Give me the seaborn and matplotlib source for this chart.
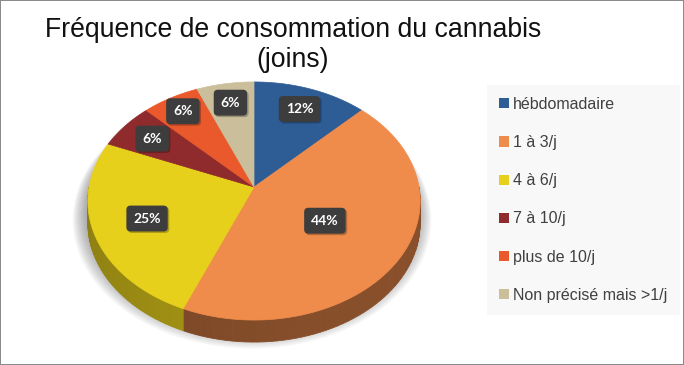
import numpy as np
import matplotlib
matplotlib.use("Agg")
import matplotlib.pyplot as plt
import matplotlib.colors as mcolors
from matplotlib.patches import Patch
import seaborn as sns

# ---------------- data ----------------
categories = ["hébdomadaire", "1 à 3/j", "4 à 6/j", "7 à 10/j",
              "plus de 10/j", "Non précisé mais >1/j"]
shares = [12.5, 43.75, 25.0, 6.25, 6.25, 6.25]
pct_labels = ["12%", "44%", "25%", "6%", "6%", "6%"]
title_lines = ["Fréquence de consommation du cannabis", "(joins)"]

# ---------------- style ----------------
colors = ["#2e5d96", "#ef8b4b", "#e7d01c", "#8f2b2c", "#e9592b", "#cbbf9b"]
side_factor = [0.55, 0.52, 0.68, 0.55, 0.55, 0.6]
label_radius = [0.78, 0.50, 0.68, 0.78, 0.84, 0.80]

sns.set_theme(style="white")
plt.rcParams['font.family'] = ['Liberation Sans', 'DejaVu Sans']

W, H = 684, 365
fig = plt.figure(figsize=(W / 100, H / 100), dpi=100)
fig.patch.set_facecolor("white")
fig.patch.set_edgecolor("#8a8a8a")
fig.patch.set_linewidth(1.2)
ax = fig.add_axes([0, 0, 1, 1])

wedges, _ = ax.pie(shares, colors=colors, startangle=90, counterclock=False,
                   radius=1, center=(0, 0))
angles = [(w.theta1, w.theta2) for w in wedges]
for w in wedges:
    w.remove()
ax.set_aspect('auto')
ax.set_xlim(0, W)
ax.set_ylim(H, 0)
ax.axis('off')

# projection of the tilted disc (pixel coordinates)
CX, CY = 254, 187
AX, AY, B = 165, 117.4, 0.1176
DEPTH = 22


def proj(theta_deg, r=1.0, dz=0.0):
    t = np.radians(np.asarray(theta_deg, dtype=float))
    x = r * np.cos(t)
    y = r * np.sin(t)
    d = 1 + B * y
    return CX + AX * x / d, CY - AY * y / d + dz


full = np.linspace(0, 360, 361)

# soft shadow
for i in range(14):
    sx, sy = proj(full, r=1.0 + 0.006 * i, dz=DEPTH * 0.55 + 0.35 * i)
    ax.fill(sx - 2, sy, color="#5a5a5a", alpha=0.045, lw=0, zorder=1)

# sides (front half only)
for i, (t1, t2) in enumerate(angles):
    a = max(t1, -180.0)
    b = min(t2, 0.0)
    if a >= b:
        continue
    base = np.array(mcolors.to_rgb(colors[i]))
    edges = np.linspace(a, b, int((b - a) / 2) + 2)
    for e0, e1 in zip(edges[:-1], edges[1:]):
        mid = 0.5 * (e0 + e1)
        f = side_factor[i] * (0.85 + 0.25 * (1 + np.cos(np.radians(mid + 40))) / 2)
        c = np.clip(base * f, 0, 1)
        th = np.linspace(e0, e1, 4)
        xt, yt = proj(th)
        xb, yb = proj(th[::-1], dz=DEPTH)
        ax.fill(np.r_[xt, xb], np.r_[yt, yb], color=c, lw=0.6, ec=c, zorder=2)

# top faces
for i, (t1, t2) in enumerate(angles):
    th = np.linspace(t1, t2, max(int(t2 - t1), 2) + 1)
    xs, ys = proj(th)
    xs = np.r_[CX, xs]
    ys = np.r_[CY, ys]
    ax.fill(xs, ys, color=colors[i], lw=0.5, ec=colors[i], zorder=3)

# data labels
for i, (t1, t2) in enumerate(angles):
    mid = 0.5 * (t1 + t2)
    lx, ly = proj(mid, r=label_radius[i])
    ax.text(lx + 1.5, ly + 1.5, pct_labels[i], ha="center", va="center",
            fontsize=10, fontweight="bold", family=["Lato", "DejaVu Sans"],
            color=(0, 0, 0, 0),
            bbox=dict(boxstyle="round,pad=0.5,rounding_size=0.3",
                      fc=(0, 0, 0, 0.25), ec="none"), zorder=4)
    ax.text(lx, ly, pct_labels[i], ha="center", va="center",
            fontsize=10, fontweight="bold", family=["Lato", "DejaVu Sans"],
            color="white",
            bbox=dict(boxstyle="round,pad=0.5,rounding_size=0.3",
                      fc="#3d3d3d", ec="none"), zorder=5)

# title (two centred lines)
for k, line in enumerate(title_lines):
    ax.text(293, 36.7 + 30 * k, line, ha="center", va="baseline",
            fontsize=19.2, color="#111111", zorder=6)

# legend
handles = [Patch(facecolor=c, edgecolor="none") for c in colors]
leg = fig.legend(handles, categories, loc="upper left",
                 bbox_to_anchor=(487 / W, 1 - 85 / H),
                 fontsize=11.5, frameon=True, fancybox=False,
                 handlelength=0.6, handleheight=0.6, handletextpad=0.3,
                 labelspacing=1.45, borderpad=0.75, borderaxespad=0)
leg.get_frame().set_facecolor("#f7f7f7")
leg.get_frame().set_edgecolor("none")
for t in leg.get_texts():
    t.set_color("#404040")

fig.savefig("out.png", dpi=100, facecolor=fig.get_facecolor(),
            edgecolor=fig.get_edgecolor())
